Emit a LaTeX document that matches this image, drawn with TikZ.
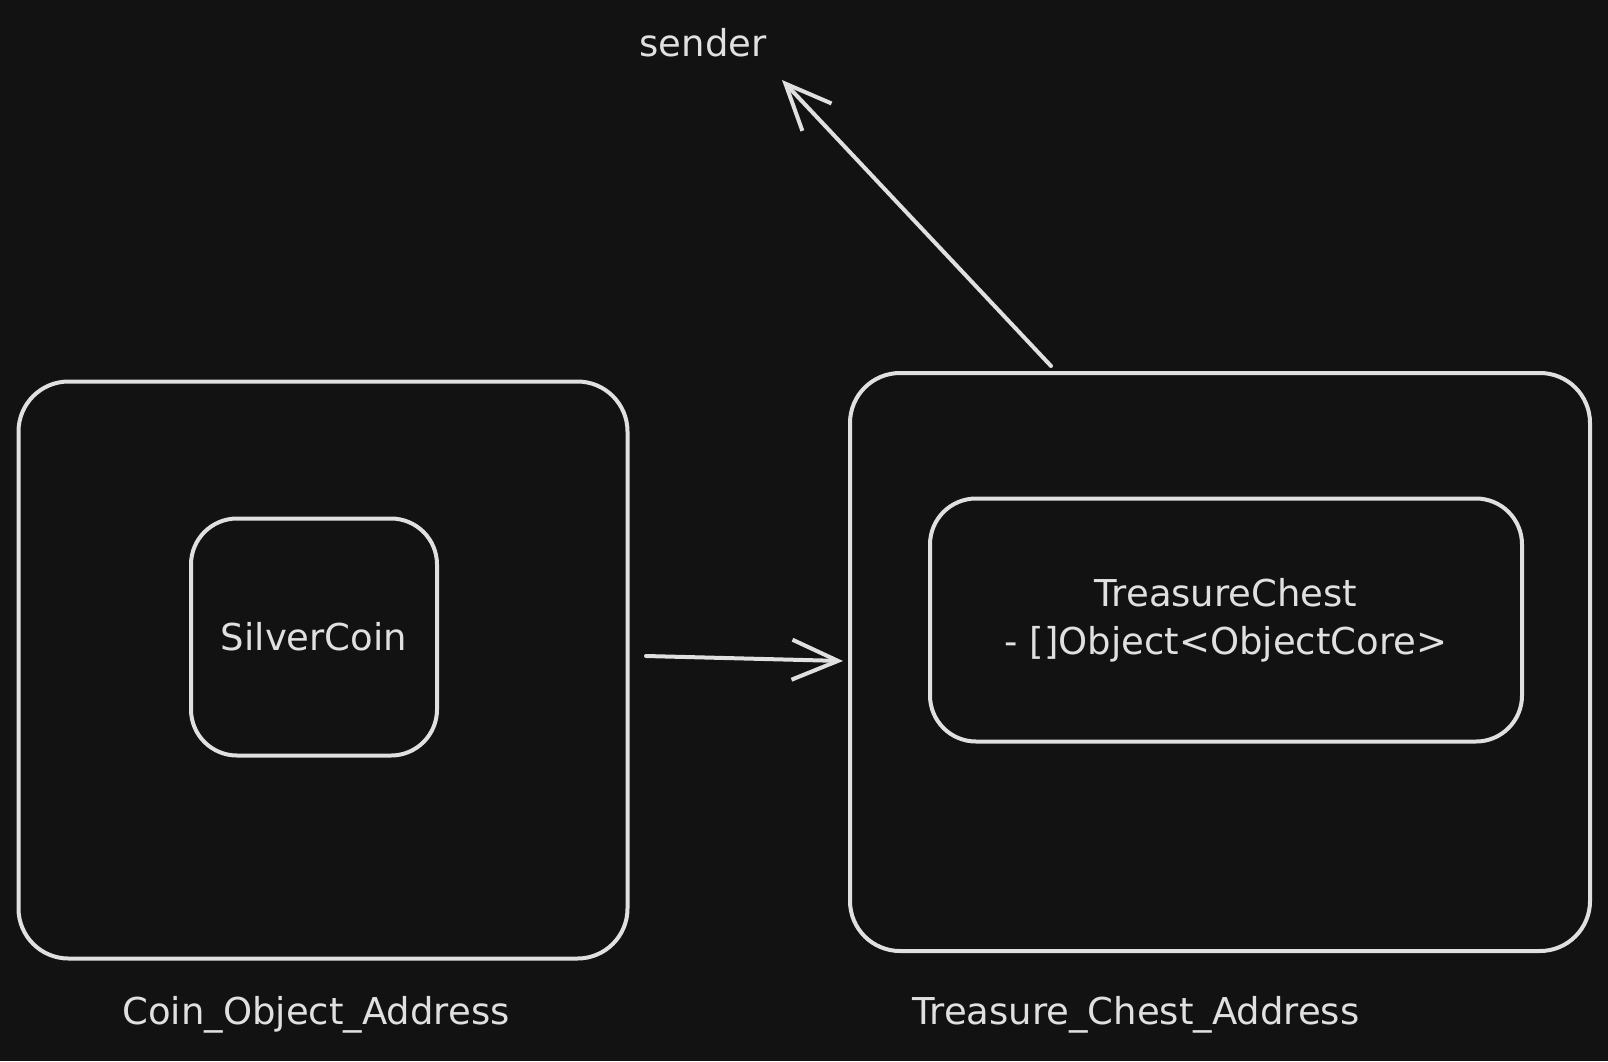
\documentclass[tikz,border=0pt]{standalone}
\usepackage{fontspec}
\setmainfont{DejaVu Sans}
\usetikzlibrary{arrows.meta}
\definecolor{bgdark}{HTML}{121212}
\definecolor{inkgray}{HTML}{E0E0E0}

\begin{document}
\begin{tikzpicture}[x=1pt, y=-1pt,
    every node/.style={font=\fontsize{37}{48}\selectfont, text=inkgray},
    outerbox/.style={draw=inkgray, line width=4pt, rounded corners=50pt, inner sep=0pt},
    innerbox/.style={draw=inkgray, line width=4pt, rounded corners=46pt, inner sep=0pt, align=center},
    flow/.style={draw=inkgray, line width=4pt, line cap=round, -{Straight Barb[length=46pt, width=40pt, line width=4pt]}}]
        \useasboundingbox[fill=bgdark] (0,0) rectangle (1608,1061);
        % Boxes
        \node[outerbox, minimum width=609pt, minimum height=577pt] (coinaddr) at (323,670) {};
        \node[innerbox, minimum width=246pt, minimum height=237pt] (silver) at (314,637) {SilverCoin};
        \node[outerbox, minimum width=740pt, minimum height=578pt] (chestaddr) at (1220,662) {};
        \node[innerbox, minimum width=592pt, minimum height=243pt] (chest) at (1226,620) {TreasureChest\\- []Object<ObjectCore>};
        % Labels
        \node (sender) at (703,43) {sender};
        \node (coinlbl) at (316,1015) {Coin\_Object\_Address};
        \node (chestlbl) at (1136,1015) {Treasure\_Chest\_Address};
        \coordinate (cfrom) at (646,656);
        \coordinate (cto) at (843,661);
        \coordinate (sfrom) at (1051,366);
        \coordinate (sto) at (782,80);

        \draw[flow] (cfrom) -- (cto);
        \draw[flow] (sfrom) -- (sto);
    \end{tikzpicture}
\end{document}
